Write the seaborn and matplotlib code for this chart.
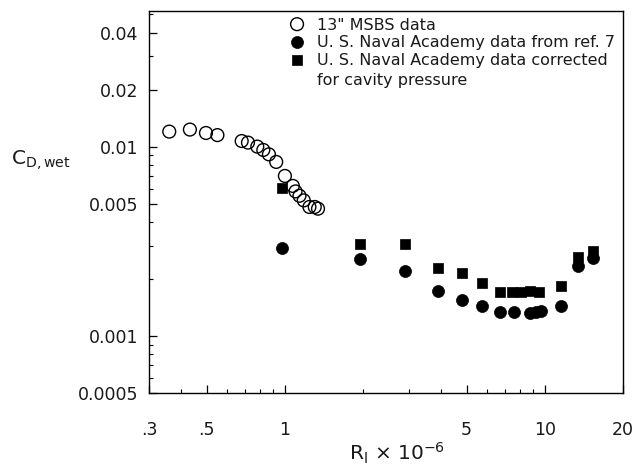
import matplotlib
matplotlib.use("Agg")
import matplotlib.pyplot as plt
import matplotlib.ticker as mticker
import seaborn as sns
import pandas as pd
import numpy as np

# 13" MSBS data (open circles)
msbs_r = [0.359, 0.431, 0.497, 0.550, 0.682, 0.721, 0.783, 0.826, 0.868, 0.926,
          1.000, 1.073, 1.099, 1.138, 1.182, 1.243, 1.303, 1.341]
msbs_cd = [0.0120, 0.0123, 0.0118, 0.0115, 0.0107, 0.0105, 0.0100, 0.0096, 0.0091, 0.0083,
           0.0070, 0.0062, 0.0058, 0.0055, 0.0052, 0.0048, 0.0048, 0.0047]

# U. S. Naval Academy data from ref. 7 (filled circles)
usna_r = [0.971, 1.95, 2.90, 3.87, 4.81, 5.74, 6.71, 7.61, 8.74, 9.26, 9.68, 11.55, 13.44, 15.28]
usna_cd = [0.00293, 0.00254, 0.00221, 0.00173, 0.00155, 0.00144, 0.00134, 0.00134,
           0.00133, 0.00134, 0.00136, 0.00144, 0.00234, 0.00257]

# U. S. Naval Academy data corrected for cavity pressure (filled squares)
corr_r = [0.971, 1.95, 2.90, 3.87, 4.81, 5.74, 6.71, 7.50, 8.10, 8.80, 9.50, 11.5, 13.44, 15.28]
corr_cd = [0.00606, 0.00305, 0.00305, 0.00228, 0.00215, 0.00190, 0.00170, 0.00170,
           0.00170, 0.00173, 0.00170, 0.00183, 0.00260, 0.00280]

x_ticks = [0.3, 0.5, 1, 5, 10, 20]
x_tick_labels = [".3", ".5", "1", "5", "10", "20"]
y_ticks = [0.0005, 0.001, 0.005, 0.01, 0.02, 0.04]
y_tick_labels = ["0.0005", "0.001", "0.005", "0.01", "0.02", "0.04"]

sns.set_theme(style="ticks")
plt.rcParams["font.family"] = ["DejaVu Sans"]
plt.rcParams["mathtext.default"] = "regular"

W, H = 639, 465
fig = plt.figure(figsize=(W / 100, H / 100), dpi=100)
ax_l, ax_r, ax_t, ax_b = 149, 623, 11, 393
ax = fig.add_axes([ax_l / W, 1 - ax_b / H, (ax_r - ax_l) / W, (ax_b - ax_t) / H])

msbs = pd.DataFrame({"R": msbs_r, "CD": msbs_cd})
usna = pd.DataFrame({"R": usna_r, "CD": usna_cd})
corr = pd.DataFrame({"R": corr_r, "CD": corr_cd})

sns.scatterplot(data=msbs, x="R", y="CD", ax=ax, marker="o", s=85,
                facecolor="none", edgecolor="black", linewidth=1.0,
                label='13" MSBS data')
sns.scatterplot(data=usna, x="R", y="CD", ax=ax, marker="o", s=75,
                color="black", edgecolor="black", linewidth=0.5,
                label="U. S. Naval Academy data from ref. 7")
sns.scatterplot(data=corr, x="R", y="CD", ax=ax, marker="s", s=62,
                color="black", edgecolor="black", linewidth=0.5,
                label="U. S. Naval Academy data corrected\nfor cavity pressure")

ax.set_xscale("log")
ax.set_yscale("log")
ax.set_xlim(0.3, 20)
ax.set_ylim(0.0005, 0.052)

ax.xaxis.set_major_locator(mticker.FixedLocator(x_ticks))
ax.xaxis.set_major_formatter(mticker.FixedFormatter(x_tick_labels))
ax.yaxis.set_major_locator(mticker.FixedLocator(y_ticks))
ax.yaxis.set_major_formatter(mticker.FixedFormatter(y_tick_labels))
ax.xaxis.set_minor_locator(mticker.LogLocator(base=10, subs=range(2, 10)))
ax.yaxis.set_minor_locator(mticker.LogLocator(base=10, subs=range(2, 10)))
ax.xaxis.set_minor_formatter(mticker.NullFormatter())
ax.yaxis.set_minor_formatter(mticker.NullFormatter())

ax.tick_params(axis="both", which="major", direction="in", length=6, width=0.9,
               labelsize=12.5, color="black", labelcolor="#1a1a1a")
ax.tick_params(axis="y", which="major", pad=8)
ax.tick_params(axis="x", which="major", pad=20)
ax.tick_params(axis="both", which="minor", direction="in", length=3, width=0.8,
               color="black")
for side in ax.spines.values():
    side.set_visible(True)
    side.set_linewidth(1.0)
    side.set_color("black")

ax.set_xlabel("")
ax.set_ylabel("")
fig.text(397 / W, 1 - 460 / H, r"R$_l$ $\times$ 10$^{-6}$", fontsize=14.5,
         ha="center", va="baseline", color="#1a1a1a")
fig.text(11 / W, 1 - 165 / H, r"C$_{D,wet}$", fontsize=14.5, ha="left",
         va="baseline", color="#1a1a1a")

fs = 11.5
leg = ax.legend(loc="upper left", bbox_to_anchor=(0.282, 0.999), frameon=False,
                fontsize=fs, handlelength=1.0, handletextpad=0.75,
                labelspacing=0.17, borderaxespad=0.0, borderpad=0.4,
                scatteryoffsets=[0.5], markerscale=1.0)
for t in leg.get_texts():
    t.set_color("#1a1a1a")
    t.set_linespacing(1.4)
# put the square marker beside the first line of its two-line label
sq = leg.legend_handles[2]
off = np.asarray(sq.get_offsets(), dtype=float)
off[:, 1] += 0.7 * fs
sq.set_offsets(off)

fig.savefig("out.png", dpi=100, facecolor="white")
